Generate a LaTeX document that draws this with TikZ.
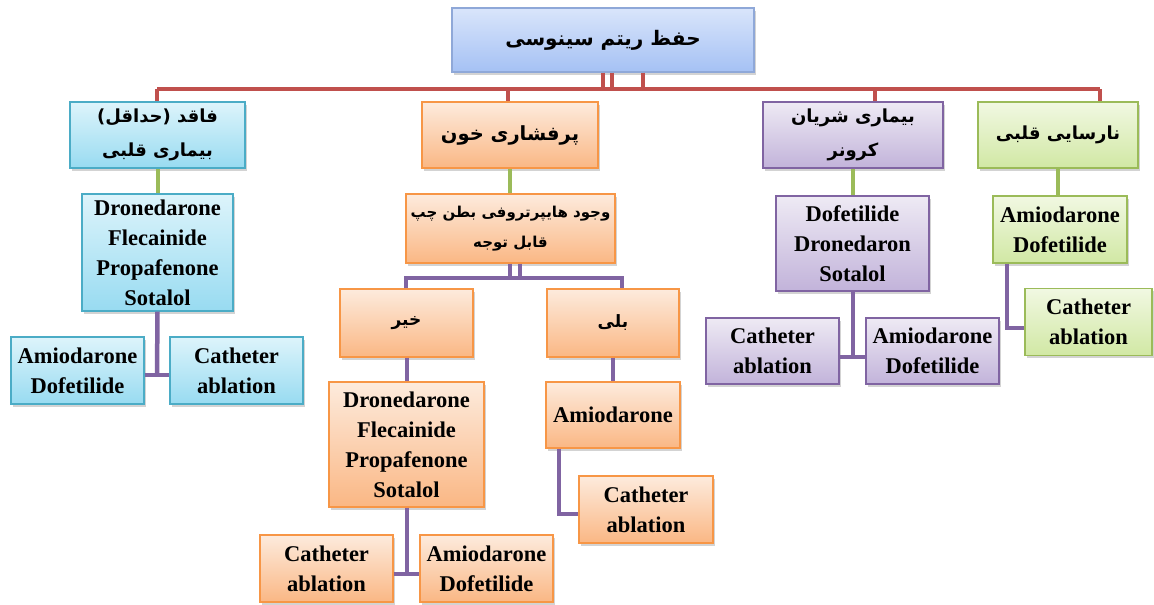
\documentclass[tikz,border=0pt]{standalone}
\usepackage{fontspec}
\setmainfont{Liberation Serif}
\newfontfamily\fa[Script=Arabic]{DejaVu Sans}
\TeXXeTstate=1
\usetikzlibrary{shadows}
\definecolor{redl}{HTML}{C0504D}
\definecolor{greenl}{HTML}{9BBB59}
\definecolor{purpl}{HTML}{8064A2}
\definecolor{bluebd}{HTML}{4BACC6}
\definecolor{bluet}{HTML}{DDF4FB}
\definecolor{blueb}{HTML}{98DBF1}
\definecolor{orbd}{HTML}{F79646}
\definecolor{ort}{HTML}{FDEBDD}
\definecolor{orb}{HTML}{FAB784}
\definecolor{put}{HTML}{EEEAF4}
\definecolor{pub}{HTML}{C2B3DA}
\definecolor{grt}{HTML}{F1F8E2}
\definecolor{grb}{HTML}{D1E8A4}
\definecolor{topt}{HTML}{D9E5FB}
\definecolor{topb}{HTML}{A5C1F4}
\definecolor{topbd}{HTML}{8FA8D8}
\tikzset{
  box/.style={draw, line width=1.3pt, inner sep=0pt, align=center,
    drop shadow={shadow xshift=2pt, shadow yshift=-2.5pt, opacity=0.35},
    font=\bfseries\fontsize{22.5}{30}\selectfont},
  farsi/.style={font=\fa\bfseries\fontsize{18}{34}\selectfont},
  bluebox/.style={box, draw=bluebd, top color=bluet, bottom color=blueb},
  orbox/.style={box, draw=orbd, top color=ort, bottom color=orb},
  pubox/.style={box, draw=purpl, top color=put, bottom color=pub},
  grbox/.style={box, draw=greenl, top color=grt, bottom color=grb},
  topbox/.style={box, draw=topbd, top color=topt, bottom color=topb},
  rline/.style={redl, line width=4pt},
  gline/.style={greenl, line width=4pt},
  pline/.style={purpl, line width=4.5pt},
}
\begin{document}
\begin{tikzpicture}[x=1pt,y=-1pt]
\useasboundingbox (0,0) rectangle (1154,605);
% level 0
\node[topbox, farsi, font=\fa\bfseries\fontsize{20}{30}\selectfont, minimum width=302pt, minimum height=64pt] (top) at (603,40) {\beginR حفظ ریتم سینوسی\endR};
% level 1
\node[bluebox, farsi, minimum width=175pt, minimum height=66pt] (b1) at (157.5,135) {\beginR فاقد (حداقل)\endR\\\beginR بیماری قلبی\endR};
\node[orbox, farsi, font=\fa\bfseries\fontsize{19.5}{30}\selectfont, minimum width=176pt, minimum height=66pt] (o1) at (510,135) {\beginR پرفشاری خون\endR};
\node[pubox, farsi, minimum width=180pt, minimum height=66pt] (p1) at (853,135) {\beginR بیماری شریان\endR\\\beginR کرونر\endR};
\node[grbox, farsi, minimum width=160pt, minimum height=66pt] (g1) at (1058,135) {\beginR نارسایی قلبی\endR};
% level 2
\node[bluebox, minimum width=151pt, minimum height=117pt] (b2) at (157.5,252.5) {Dronedarone\\Flecainide\\Propafenone\\Sotalol};
\node[orbox, farsi, font=\fa\bfseries\fontsize{15}{30}\selectfont, minimum width=209pt, minimum height=69pt] (o2) at (510.5,228.5) {\beginR وجود هایپرتروفی بطن چپ\endR\\\beginR قابل توجه\endR};
\node[pubox, minimum width=153pt, minimum height=95pt] (p2) at (852.5,243.5) {Dofetilide\\Dronedaron\\Sotalol};
\node[grbox, minimum width=134pt, minimum height=67pt] (g2) at (1060,229.5) {Amiodarone\\Dofetilide};
% level 3
\node[bluebox, minimum width=133pt, minimum height=67pt] (b3a) at (77.5,370.5) {Amiodarone\\Dofetilide};
\node[bluebox, minimum width=133pt, minimum height=67pt] (b3b) at (236.5,370.5) {Catheter\\ablation};
\node[orbox, farsi, font=\fa\bfseries\fontsize{17}{30}\selectfont, minimum width=133pt, minimum height=68pt] (no) at (406.5,323) {\beginR خیر\endR};
\node[orbox, farsi, font=\fa\bfseries\fontsize{17}{30}\selectfont, minimum width=132pt, minimum height=68pt] (yes) at (613,323) {\beginR بلی\endR};
\node[pubox, minimum width=133pt, minimum height=66pt] (p3a) at (772.5,351) {Catheter\\ablation};
\node[pubox, minimum width=133pt, minimum height=66pt] (p3b) at (932.5,351) {Amiodarone\\Dofetilide};
\node[grbox, minimum width=127pt, minimum height=67pt] (g3) at (1088.5,322) {Catheter\\ablation};
% level 4
\node[orbox, minimum width=155pt, minimum height=125pt] (o3) at (406.5,444.5) {Dronedarone\\Flecainide\\Propafenone\\Sotalol};
\node[orbox, minimum width=134pt, minimum height=66pt] (oam) at (613,415) {Amiodarone};
\node[orbox, minimum width=134pt, minimum height=67pt] (oca) at (646,509.5) {Catheter\\ablation};
\node[orbox, minimum width=133pt, minimum height=67pt] (o4a) at (326.5,568.5) {Catheter\\ablation};
\node[orbox, minimum width=133pt, minimum height=67pt] (o4b) at (486.5,568.5) {Amiodarone\\Dofetilide};
% coordinates
\coordinate (busL) at (157,89);
\coordinate (busO) at (508,89);
\coordinate (busP) at (875,89);
\coordinate (busR) at (1100,89);
\coordinate (t1) at (603,89);
\coordinate (t2) at (612,89);
\coordinate (t3) at (643,89);
\coordinate (jb) at (157,375);
\coordinate (jh) at (515,278);
\coordinate (jhl) at (406,278);
\coordinate (jhr) at (622,278);
\coordinate (jo3) at (407,574);
\coordinate (joa) at (559,514);
\coordinate (jp) at (853,357);
\coordinate (jg) at (1007,328);
% red bus
\draw[rline] (busL) -- (busR);
\draw[rline] (busL) -- (busL |- b1.north);
\draw[rline] (busO) -- (busO |- o1.north);
\draw[rline] (busP) -- (busP |- p1.north);
\draw[rline] (busR) -- (busR |- g1.north);
\draw[rline, line width=3.5pt] (t1 |- top.south) -- (t1);
\draw[rline, line width=3.5pt] (t2 |- top.south) -- (t2);
\draw[rline, line width=3.5pt] (t3 |- top.south) -- (t3);
% green drops
\draw[gline] (b1.south) -- (b2.north);
\draw[gline] (o1.south) -- (o1.south |- o2.north);
\draw[gline] (p1.south) -- (p1.south |- p2.north);
\draw[gline] (g1.south) -- (g1.south |- g2.north);
% purple
\draw[pline] (b2.south) -- (jb);
\draw[pline] (jb -| b3a.east) -- (jb -| b3b.west);
\draw[pline, line width=3.5pt] ([xshift=-5pt]jh |- o2.south) -- ([xshift=-5pt]jh);
\draw[pline, line width=3.5pt] ([xshift=5pt]jh |- o2.south) -- ([xshift=5pt]jh);
\draw[pline] (jhl |- no.north) -- (jhl) -- (jhr) -- (jhr |- yes.north);
\draw[pline] (no.south -| jo3) -- (o3.north -| jo3);
\draw[pline] (yes.south) -- (oam.north);
\draw[pline] (o3.south -| jo3) -- (jo3);
\draw[pline] (jo3 -| o4a.east) -- (jo3 -| o4b.west);
\draw[pline] (oam.south -| joa) -- (joa) -- (joa -| oca.west);
\draw[pline] (p2.south -| jp) -- (jp);
\draw[pline] (jp -| p3a.east) -- (jp -| p3b.west);
\draw[pline] (g2.south -| jg) -- (jg) -- (jg -| g3.west);
\end{tikzpicture}
\end{document}
